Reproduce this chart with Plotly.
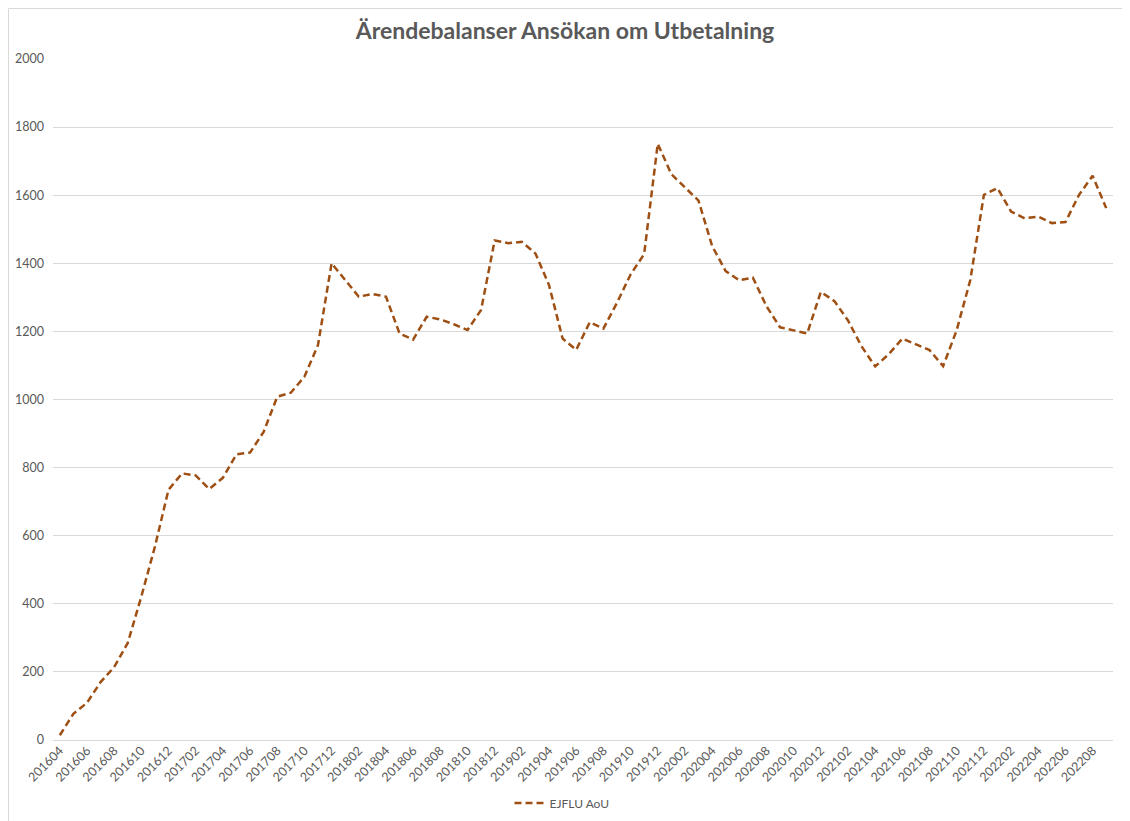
import plotly.graph_objects as go

months = [
    "201604", "201605", "201606", "201607", "201608", "201609", "201610", "201611", "201612",
    "201701", "201702", "201703", "201704", "201705", "201706", "201707", "201708", "201709",
    "201710", "201711", "201712",
    "201801", "201802", "201803", "201804", "201805", "201806", "201807", "201808", "201809",
    "201810", "201811", "201812",
    "201901", "201902", "201903", "201904", "201905", "201906", "201907", "201908", "201909",
    "201910", "201911", "201912",
    "202001", "202002", "202003", "202004", "202005", "202006", "202007", "202008", "202009",
    "202010", "202011", "202012",
    "202101", "202102", "202103", "202104", "202105", "202106", "202107", "202108", "202109",
    "202110", "202111", "202112",
    "202201", "202202", "202203", "202204", "202205", "202206", "202207", "202208", "202209",
]

ejflu_aou = [
    14, 77, 109, 170, 214, 285, 421, 568, 735,
    783, 777, 737, 770, 839, 844, 905, 1008, 1020,
    1067, 1160, 1400,
    1351, 1302, 1310, 1302, 1194, 1176, 1243, 1235, 1221,
    1204, 1263, 1467,
    1459, 1463, 1429, 1336, 1179, 1146, 1227, 1208, 1284,
    1367, 1427, 1751,
    1662, 1623, 1584, 1451, 1377, 1350, 1358, 1274, 1212,
    1203, 1194, 1316,
    1289, 1232, 1156, 1097, 1133, 1179, 1163, 1145, 1098,
    1204, 1351, 1601,
    1621, 1552, 1532, 1537, 1518, 1521, 1601, 1657, 1562,
]

tick_labels = months[::2]

series_name = "EJFLU AoU"
title_text = "Ärendebalanser Ansökan om Utbetalning"

# the page body adds an 8px offset, so figure coordinates = screen - 8
OFF = 8
W, H = 1122, 813
ml, mr, mt, mb = 53 - OFF, 1130 - 1113, 59 - OFF, 81

fig = go.Figure()
fig.add_trace(go.Scatter(
    x=months, y=ejflu_aou, mode="lines", name=series_name,
    line=dict(color="#9E4F14", width=2.5, dash="7px,4px"),
))

ph = H - mt - mb
pw = W - ml - mr

fig.update_layout(
    width=W, height=H,
    margin=dict(l=ml, r=mr, t=mt, b=mb, autoexpand=False),
    paper_bgcolor="white", plot_bgcolor="white",
    font=dict(family="Lato, 'Open Sans', sans-serif", color="#595959", size=12),
    title=dict(text="<b>" + title_text + "</b>", x=(565 - OFF) / W, xanchor="center",
               y=1 - (31 - OFF) / H, yanchor="middle",
               font=dict(size=23, color="#595959", family="Lato, 'Open Sans', sans-serif")),
    showlegend=True,
    legend=dict(orientation="h", x=(562 - OFF - ml) / pw, xanchor="center",
                yref="container", y=(H - (803 - OFF)) / H,
                yanchor="middle", font=dict(size=12, color="#595959")),
    xaxis=dict(type="category", categoryorder="array", categoryarray=months,
               range=[-0.5, len(months) - 0.5], automargin=False,
               tickmode="array", tickvals=tick_labels, ticktext=tick_labels,
               tickangle=-45, showgrid=False, showline=False, ticks="",
               tickfont=dict(size=12.5, color="#595959")),
    yaxis=dict(range=[0, 2000], dtick=200, showgrid=True, gridcolor="#D9D9D9",
               gridwidth=1, zeroline=True, zerolinecolor="#D9D9D9", zerolinewidth=1,
               showline=False, ticks="", ticklabelstandoff=8, automargin=False,
               tickfont=dict(size=12.5, color="#595959")),
)

def px_x(p):
    return (p - OFF - ml) / pw
def px_y(p):
    return (H - mb - (p - OFF)) / ph

fig.add_shape(type="rect", xref="paper", yref="paper",
              x0=px_x(8.5), x1=px_x(1128), y0=px_y(840), y1=px_y(8.5),
              line=dict(color="#D9D9D9", width=1), fillcolor="rgba(0,0,0,0)", layer="below")

fig.write_html("out.html")
